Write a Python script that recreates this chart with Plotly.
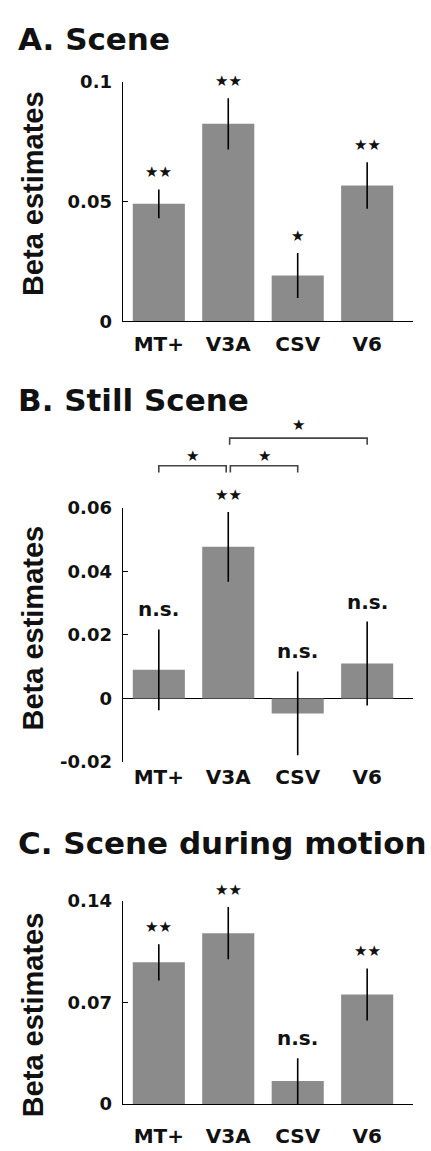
import plotly.graph_objects as go

W, H = 431, 1151

regions = ["MT+", "V3A", "CSV", "V6"]
xpos = [0, 1, 2, 3]

scene_vals = [0.049, 0.0824, 0.0191, 0.0567]
scene_err = [0.006, 0.0107, 0.0094, 0.0097]
scene_sig = ["★★", "★★", "★", "★★"]

still_vals = [0.009, 0.0477, -0.0047, 0.011]
still_err = [0.0127, 0.011, 0.0132, 0.0132]
still_sig = ["n.s.", "★★", "n.s.", "n.s."]

motion_vals = [0.0978, 0.1179, 0.0158, 0.0756]
motion_err = [0.0125, 0.018, 0.0158, 0.018]
motion_sig = ["★★", "★★", "n.s.", "★★"]

# pairwise comparisons in panel B: (from, to, label, bracket level)
still_pairs = [(0, 1, "★", 0.0732), (1, 2, "★", 0.0732), (1, 3, "★", 0.0819)]

scene_ticks = [0, 0.05, 0.1]
scene_ticktext = ["0", "0.05", "0.1"]
still_ticks = [-0.02, 0, 0.02, 0.04, 0.06]
still_ticktext = ["-0.02", "0", "0.02", "0.04", "0.06"]
motion_ticks = [0, 0.07, 0.14]
motion_ticktext = ["0", "0.07", "0.14"]

titles = ["A. Scene", "B. Still Scene", "C. Scene during motion"]

BAR = "#8b8b8b"
TXT = "#111111"
SANS = "DejaVu Sans"
ARIAL = "Liberation Sans"

def py(px):
    return 1 - px / H

panels = [
    dict(vals=scene_vals, err=scene_err, sig=scene_sig, rng=[0, 0.1],
         ticks=scene_ticks, tt=scene_ticktext, top=72, bot=316,
         title_y=28.5, ylab_y=186.5, xstand=5),
    dict(vals=still_vals, err=still_err, sig=still_sig, rng=[-0.02, 0.06],
         ticks=still_ticks, tt=still_ticktext, top=506, bot=765,
         title_y=396.5, ylab_y=629, xstand=1),
    dict(vals=motion_vals, err=motion_err, sig=motion_sig, rng=[0, 0.14],
         ticks=motion_ticks, tt=motion_ticktext, top=906.7, bot=1113.3,
         title_y=847, ylab_y=1023, xstand=14),
]

fig = go.Figure()
annotations = []
xdom = [122.7 / W, 413 / W]
XR = [-0.52, 3.66]

for i, p in enumerate(panels):
    n = "" if i == 0 else str(i + 1)
    xa, ya = "x" + n, "y" + n
    fig.add_trace(go.Bar(
        x=xpos, y=p["vals"], width=0.75, marker=dict(color=BAR, line=dict(width=0)),
        error_y=dict(type="data", array=p["err"], visible=True, color="#000000",
                     thickness=1.6, width=0),
        xaxis=xa, yaxis=ya, showlegend=False, hoverinfo="skip"))
    for x, v, e, s in zip(xpos, p["vals"], p["err"], p["sig"]):
        star = "★" in s
        annotations.append(dict(
            x=x, y=v + e, xref=xa, yref=ya, text=s, showarrow=False,
            yanchor="middle", yshift=17 if star else 20,
            font=dict(family=SANS, size=15 if star else 20, color=TXT, weight="bold")))
    fig.layout["xaxis" + n] = dict(
        domain=xdom, anchor=ya, range=XR, tickmode="array",
        tickvals=xpos, ticktext=regions, showline=(i != 1), linecolor="#000000",
        linewidth=1.3, ticks="", showgrid=False, zeroline=False,
        ticklabelstandoff=p["xstand"],
        tickfont=dict(family=SANS, size=20, color=TXT, weight="bold"))
    fig.layout["yaxis" + n] = dict(
        domain=[py(p["bot"]), py(p["top"])], anchor=xa, range=p["rng"],
        tickmode="array", tickvals=p["ticks"], ticktext=p["tt"],
        showline=True, linecolor="#000000", linewidth=1.2,
        ticks="inside", ticklen=5, tickwidth=1.2, tickcolor="#000000",
        showgrid=False, zeroline=(i == 1), zerolinecolor="#000000",
        zerolinewidth=1.3, ticklabelstandoff=6,
        tickfont=dict(family=SANS, size=18, color=TXT, weight="bold"))
    annotations.append(dict(
        x=16 / W, y=py(p["title_y"]), xref="paper", yref="paper",
        text=titles[i], showarrow=False, xanchor="left", yanchor="middle",
        font=dict(family=SANS, size=31, color=TXT, weight="bold")))
    annotations.append(dict(
        x=33 / W, y=py(p["ylab_y"]), xref="paper", yref="paper",
        text="Beta estimates", showarrow=False, textangle=-90,
        xanchor="center", yanchor="middle",
        font=dict(family=ARIAL, size=29, color=TXT, weight="bold")))

# bracket strip above panel B: invisible axes sharing panel B's y scale
b = panels[1]
per_px = (b["rng"][1] - b["rng"][0]) / (b["bot"] - b["top"])
strip_top, strip_bot = 405, 480
fig.layout["xaxis4"] = dict(domain=xdom, anchor="y4", range=XR, visible=False)
fig.layout["yaxis4"] = dict(
    domain=[py(strip_bot), py(strip_top)], anchor="x4", visible=False,
    range=[b["rng"][1] + (b["top"] - strip_bot) * per_px,
           b["rng"][1] + (b["top"] - strip_top) * per_px])

insets = [(0.0, 0.03), (0.03, 0.0), (0.02, 0.0)]
drop = 0.0021
for (a, c, lab, lvl), (ia, ib) in zip(still_pairs, insets):
    x0, x1 = a + ia, c - ib
    fig.add_trace(go.Scatter(
        x=[x0, x0, x1, x1], y=[lvl - drop, lvl, lvl, lvl - drop], mode="lines",
        line=dict(color="#444444", width=1.6),
        xaxis="x4", yaxis="y4", showlegend=False, hoverinfo="skip"))
    annotations.append(dict(
        x=(x0 + x1) / 2, y=lvl, xref="x4", yref="y4", text=lab, showarrow=False,
        yanchor="middle", yshift=10 if lvl < 0.08 else 13,
        font=dict(family=SANS, size=15, color=TXT, weight="bold")))

fig.update_layout(
    width=W, height=H, margin=dict(l=0, r=0, t=0, b=0),
    paper_bgcolor="white", plot_bgcolor="rgba(0,0,0,0)",
    annotations=annotations, bargap=0.25)

fig.write_html("out.html")
